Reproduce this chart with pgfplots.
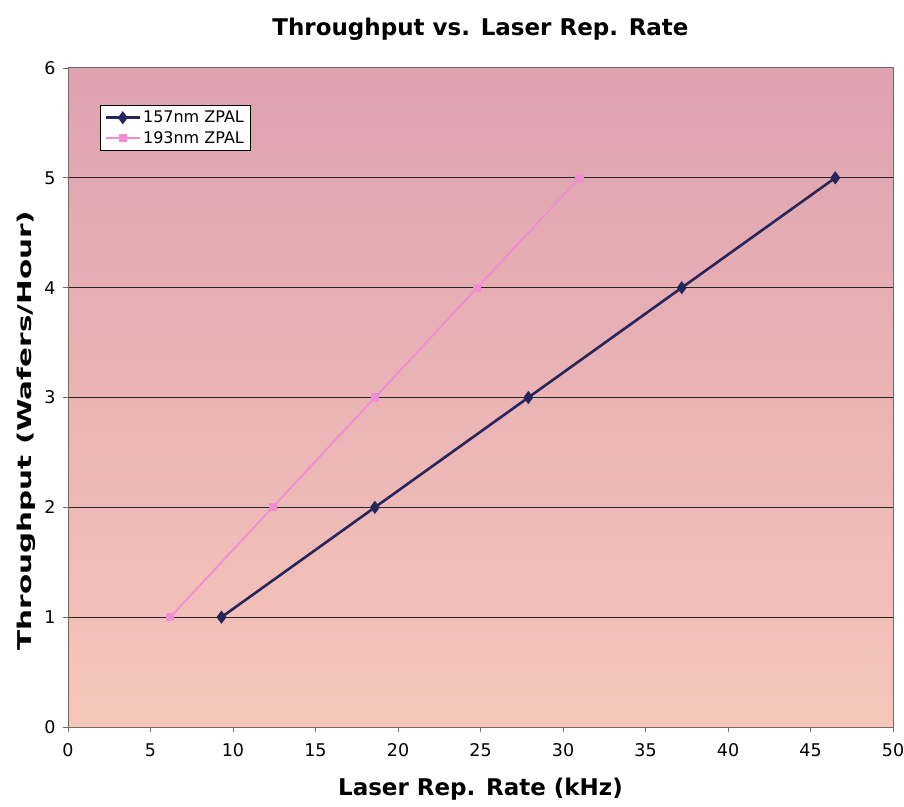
\documentclass[border=0pt]{standalone}
\usepackage{pgfplots}
\pgfplotsset{compat=1.18}
\usepackage{graphicx}
\usepackage{fontspec}
\setmainfont{DejaVu Sans}
\definecolor{navyline}{RGB}{38,38,92}
\definecolor{pinkline}{RGB}{240,140,210}
\definecolor{bgtop}{RGB}{222,162,176}
\definecolor{bgbot}{RGB}{246,198,186}
\definecolor{framegray}{RGB}{115,105,95}
\begin{document}
\begin{tikzpicture}
\begin{axis}[
  at={(0pt,0pt)}, anchor=south west,
  scale only axis, width=825pt, height=659pt,
  xmin=0, xmax=50, ymin=0, ymax=6,
  xtick={0,5,...,50}, ytick={0,1,...,6},
  tick align=outside, tick pos=left,
  major tick length=5pt,
  axis line style={framegray, line width=1pt},
  every tick/.style={framegray, line width=0.8pt},
  ymajorgrids, grid style={black!85, line width=1pt},
  axis background/.style={top color=bgtop, bottom color=bgbot},
  tick label style={font=\fontsize{17.5}{20}\selectfont},
  xticklabel style={yshift=-8pt},
  yticklabel style={xshift=-4pt},
  /pgf/number format/assume math mode=true,
  xlabel={\bfseries Laser Rep. Rate (kHz)},
  ylabel={\scalebox{1.55}[1]{\bfseries Throughput (Wafers/Hour)}},
  xlabel style={font=\fontsize{23}{26}\selectfont, yshift=-14pt},
  ylabel style={font=\fontsize{19}{22}\selectfont, at={(ticklabel cs:0.45)},
    yshift=2pt},
  title={\bfseries Throughput vs. Laser Rep. Rate},
  title style={font=\fontsize{23}{27}\selectfont, yshift=18pt},
  legend style={at={(0.039,0.944)}, anchor=north west, fill=white, draw=black,
    line width=0.6pt, font=\fontsize{16}{19}\selectfont, row sep=3pt,
    inner sep=4pt},
  legend image code/.code={
    \draw[mark repeat=2, mark phase=2] plot coordinates {(0pt,0pt) (17pt,0pt) (34pt,0pt)};},
  legend cell align=left,
]
\addplot[navyline, line width=2.6pt, mark=diamond*, mark size=4.5pt,
  mark options={solid, fill=navyline}]
  coordinates {(9.3,1) (18.6,2) (27.9,3) (37.2,4) (46.5,5)};
\addlegendentry{157nm ZPAL}
\addplot[pinkline, line width=1.8pt, mark=square*, mark size=3.2pt,
  mark options={solid, fill=pinkline}]
  coordinates {(6.2,1) (12.4,2) (18.6,3) (24.8,4) (31,5)};
\addlegendentry{193nm ZPAL}
\end{axis}
\pgfresetboundingbox
\path[use as bounding box] (-68pt,-79pt) rectangle (836pt,727pt);
\end{tikzpicture}
\end{document}
